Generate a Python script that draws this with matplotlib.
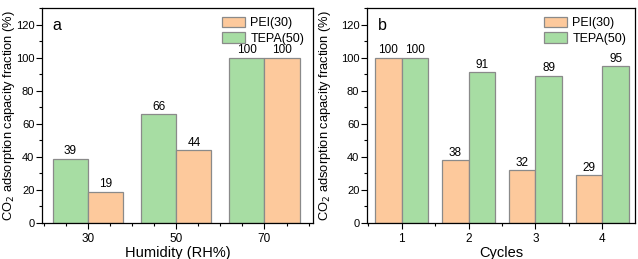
import numpy as np
import matplotlib
matplotlib.use("Agg")
import matplotlib.pyplot as plt
from matplotlib.ticker import MultipleLocator

humidity = ['30', '50', '70']
tepa_hum = [39, 66, 100]
pei_hum  = [19, 44, 100]

cycles    = ['1', '2', '3', '4']
pei_cyc   = [100, 38, 32, 29]
tepa_cyc  = [100, 91, 89, 95]

c_pei  = '#FDC99C'
c_tepa = '#A7DDA3'
edge   = '#8a8a8a'

plt.rcParams['font.family'] = 'Liberation Sans'
plt.rcParams['font.size'] = 9

fig = plt.figure(figsize=(6.38, 2.59), dpi=100)
ax1 = fig.add_axes([42/638, 36/259, 271/638, 215/259])
ax2 = fig.add_axes([367/638, 36/259, 268/638, 215/259])

w = 0.4

def style(ax, xlabel, label, lx):
  ax.set_ylim(0, 130)
  ax.yaxis.set_major_locator(MultipleLocator(20))
  ax.yaxis.set_minor_locator(MultipleLocator(10))
  ax.tick_params(axis='both', which='major', direction='out', length=4, width=0.8)
  ax.tick_params(axis='y', which='major', labelsize=8, pad=1.5)
  ax.tick_params(axis='x', which='major', labelsize=8.5, pad=3)
  ax.tick_params(axis='both', which='minor', direction='out', length=2.5, width=0.8)
  ax.set_xlabel(xlabel, fontsize=10.5, labelpad=1)
  ax.set_ylabel('CO$_2$ adsorption capacity fraction (%)', fontsize=9.3)
  ax.yaxis.set_label_coords(lx, 0.5)
  ax.text(0.04, 0.955, label, transform=ax.transAxes, fontsize=11.5, va='top', ha='left')
  for s in ax.spines.values():
    s.set_linewidth(0.9)

def labels(ax, bars, vals):
  for b, v in zip(bars, vals):
    ax.text(b.get_x() + b.get_width()/2, v + 0.8, str(v), ha='center', va='bottom', fontsize=8.5)

def legend(ax, handles):
  ax.legend(handles=handles, loc='upper right', frameon=False, fontsize=9,
            handlelength=1.9, handleheight=0.9, borderaxespad=0.3, labelspacing=0.25,
            handletextpad=0.4)

# panel a
x = np.arange(len(humidity))
b_t = ax1.bar(x - w/2, tepa_hum, w, color=c_tepa, edgecolor=edge, linewidth=0.9, label='TEPA(50)')
b_p = ax1.bar(x + w/2, pei_hum, w, color=c_pei, edgecolor=edge, linewidth=0.9, label='PEI(30)')
labels(ax1, b_t, tepa_hum)
labels(ax1, b_p, pei_hum)
ax1.set_xticks(x)
ax1.set_xticklabels(humidity)
ax1.xaxis.set_minor_locator(MultipleLocator(0.25))
ax1.set_xlim(-0.52, 2.55)
style(ax1, 'Humidity (RH%)', 'a', -0.094)
legend(ax1, [b_p, b_t])

# panel b
x2 = np.arange(len(cycles))
b_p2 = ax2.bar(x2 - w/2, pei_cyc, w, color=c_pei, edgecolor=edge, linewidth=0.9, label='PEI(30)')
b_t2 = ax2.bar(x2 + w/2, tepa_cyc, w, color=c_tepa, edgecolor=edge, linewidth=0.9, label='TEPA(50)')
labels(ax2, b_p2, pei_cyc)
labels(ax2, b_t2, tepa_cyc)
ax2.set_xticks(x2)
ax2.set_xticklabels(cycles)
ax2.xaxis.set_minor_locator(MultipleLocator(0.5))
ax2.set_xlim(-0.52, 3.49)
style(ax2, 'Cycles', 'b', -0.125)
legend(ax2, [b_p2, b_t2])

fig.savefig('out.png', dpi=100)
